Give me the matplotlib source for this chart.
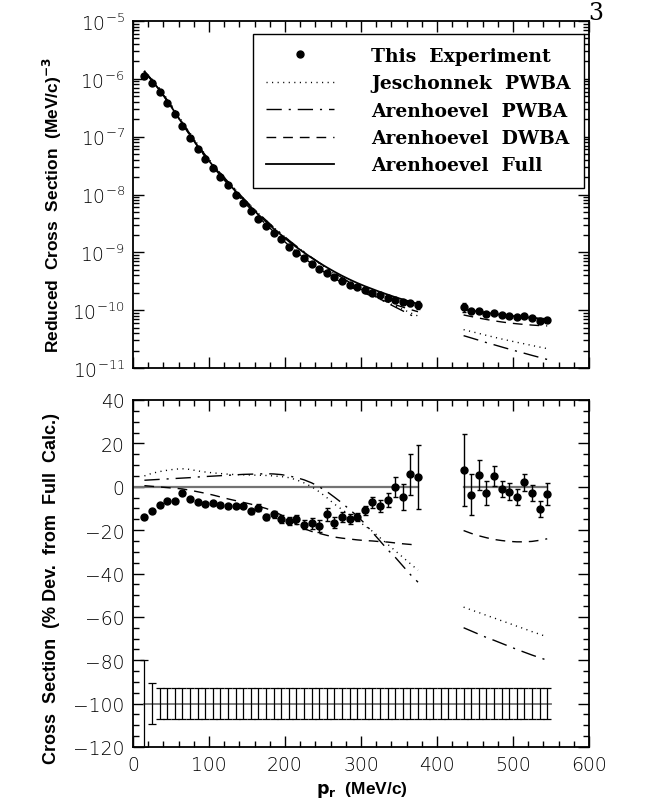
import matplotlib
matplotlib.use("Agg")
import matplotlib.pyplot as plt
from matplotlib.lines import Line2D
from matplotlib.ticker import MultipleLocator, LogLocator, NullFormatter
import numpy as np

# missing momentum bins (MeV/c), two kinematic settings
p_low = [15, 25, 35, 45, 55, 65, 75, 85, 95, 105, 115, 125, 135, 145, 155, 165, 175, 185,
         195, 205, 215, 225, 235, 245, 255, 265, 275, 285, 295, 305, 315, 325, 335, 345,
         355, 365, 375]
p_high = [435, 445, 455, 465, 475, 485, 495, 505, 515, 525, 535, 545]

# reduced cross section, this experiment (log10 of (MeV/c)^-3)
log_sigma_low = [-5.947, -6.080, -6.230, -6.415, -6.611, -6.807, -7.015, -7.211, -7.384,
                 -7.540, -7.696, -7.841, -8.002, -8.141, -8.285, -8.418, -8.551, -8.672,
                 -8.776, -8.909, -9.007, -9.105, -9.203, -9.284, -9.353, -9.434, -9.503,
                 -9.561, -9.607, -9.654, -9.700, -9.746, -9.786, -9.821, -9.861, -9.879,
                 -9.908]
log_sigma_high = [-9.948, -10.023, -10.006, -10.064, -10.052, -10.081, -10.098, -10.110,
                  -10.104, -10.139, -10.179, -10.168]

# Arenhoevel full calculation (log10)
log_full_low = [-5.88, -6.03, -6.195, -6.38, -6.575, -6.775, -6.97, -7.16, -7.335, -7.50,
                -7.655, -7.80, -7.945, -8.085, -8.22, -8.35, -8.47, -8.59, -8.70, -8.81,
                -8.91, -9.005, -9.095, -9.18, -9.26, -9.335, -9.405, -9.47, -9.53, -9.585,
                -9.635, -9.685, -9.73, -9.775, -9.815, -9.855, -9.89]
log_full_high = [-9.985, -10.005, -10.025, -10.045, -10.063, -10.08, -10.095, -10.108,
                 -10.12, -10.132, -10.143, -10.153]

# % deviation of data from full calculation
dev_low = [-14.1, -11.4, -8.5, -6.5, -6.8, -3.1, -5.8, -7.2, -8.0, -7.7, -8.5, -9.1, -8.8,
           -8.9, -11.4, -9.6, -13.9, -12.6, -15.0, -15.8, -15.0, -17.5, -16.9, -18.1, -12.6,
           -16.5, -13.9, -14.7, -13.9, -10.9, -7.2, -8.8, -6.2, 0.0, -4.8, 5.7, 4.6]
err_low = [0.8, 0.8, 0.8, 0.8, 0.8, 0.8, 0.8, 0.8, 0.8, 0.8, 0.8, 0.8, 0.8, 0.8, 1.2, 1.5,
           1.5, 1.6, 1.8, 1.9, 2.0, 2.2, 2.4, 2.6, 3.0, 2.7, 2.3, 2.3, 2.0, 2.0, 2.6, 2.8,
           3.1, 4.5, 5.9, 9.4, 14.8]
dev_high = [7.8, -3.7, 5.4, -2.9, 4.8, -1.0, -2.2, -4.9, 2.0, -2.8, -10.3, -3.4]
err_high = [16.7, 9.5, 7.0, 5.4, 4.6, 3.8, 3.7, 3.7, 3.9, 3.8, 3.8, 4.9]

# theory curves, % deviation from full calculation
jesch_low = [5.0, 6.2, 7.0, 7.6, 8.1, 8.3, 8.0, 7.3, 6.8, 6.4, 6.1, 5.8, 5.6, 5.5, 5.4, 5.3,
             5.2, 5.0, 4.7, 4.2, 3.2, 1.8, 0.0, -2.3, -5.0, -8.0, -10.5, -13.0, -15.5, -18.0,
             -20.5, -23.5, -26.5, -29.5, -32.5, -35.5, -38.5]
jesch_high = [-55.5, -56.8, -58.0, -59.3, -60.5, -61.8, -63.0, -64.3, -65.5, -66.8, -68.0, -69.2]
apwba_low = [3.0, 3.2, 3.4, 3.6, 3.8, 4.0, 4.2, 4.5, 4.7, 4.9, 5.1, 5.3, 5.5, 5.7, 5.8, 5.9,
             6.0, 5.9, 5.6, 5.0, 4.2, 3.2, 1.8, 0.0, -2.2, -4.8, -7.5, -10.5, -13.5, -17.0,
             -21.0, -25.0, -29.0, -32.5, -36.5, -40.5, -44.0]
apwba_high = [-65.0, -66.5, -68.0, -69.5, -70.8, -72.2, -73.6, -75.0, -76.3, -77.6, -78.8, -80.0]
adwba_low = [0.5, 0.2, -0.1, -0.4, -0.7, -1.0, -1.6, -2.3, -3.0, -3.8, -4.7, -5.6, -6.4,
             -7.2, -8.0, -9.0, -10.0, -11.3, -13.0, -15.0, -17.3, -19.3, -20.6, -21.5, -22.4,
             -23.2, -23.7, -24.1, -24.5, -24.8, -25.0, -25.3, -25.5, -25.9, -26.3, -26.6, -27.0]
adwba_high = [-20.2, -21.5, -22.6, -23.5, -24.3, -24.8, -25.2, -25.4, -25.4, -25.2, -24.7, -24.0]

# systematic uncertainty band, centred at -100
sys_p = list(range(15, 550, 10))
sys_err = [20.0, 9.3] + [7.2] * (len(sys_p) - 2)

legend_names = ["This  Experiment", "Jeschonnek  PWBA", "Arenhoevel  PWBA",
                "Arenhoevel  DWBA", "Arenhoevel  Full"]

tick_font = "DejaVu Sans"
label_font = "Liberation Sans"

styles = {
    "jesch": dict(color="k", lw=1.0, dashes=(0.8, 3.2)),
    "apwba": dict(color="k", lw=1.0, dashes=(11, 5, 1.5, 5)),
    "adwba": dict(color="k", lw=1.0, dashes=(7, 5)),
    "full": dict(color="k", lw=1.3),
}

W, H = 657, 803
fig = plt.figure(figsize=(W / 100, H / 100), dpi=100)
ax1 = fig.add_axes([133 / W, 1 - 369 / H, 456 / W, 347 / H])
ax2 = fig.add_axes([133 / W, 1 - 748 / H, 456 / W, 347 / H])

# ---------------- top panel ----------------
groups = [(p_low, log_sigma_low, log_full_low, err_low, jesch_low, apwba_low, adwba_low),
          (p_high, log_sigma_high, log_full_high, err_high, jesch_high, apwba_high, adwba_high)]
for p, ls, lf, er, je, ap, ad in groups:
    p = np.array(p)
    sig = 10 ** np.array(ls)
    full = 10 ** np.array(lf)
    ax1.errorbar(p, sig, yerr=sig * np.array(er) / 100, fmt="o", color="k", ms=5,
                 elinewidth=1, capsize=1.6, capthick=1)
    ax1.plot(p, full * (1 + np.array(je) / 100), **styles["jesch"])
    ax1.plot(p, full * (1 + np.array(ap) / 100), **styles["apwba"])
    ax1.plot(p, full * (1 + np.array(ad) / 100), **styles["adwba"])
    ax1.plot(p, full, **styles["full"])

ax1.set_yscale("log")
ax1.set_xlim(0, 600)
ax1.set_ylim(1e-11, 1e-5)
ax1.xaxis.set_major_locator(MultipleLocator(100))
ax1.xaxis.set_minor_locator(MultipleLocator(20))
ax1.tick_params(axis="x", labelbottom=False)
ax1.yaxis.set_major_locator(LogLocator(base=10, numticks=10))
ax1.yaxis.set_minor_locator(LogLocator(base=10, subs=np.arange(2, 10), numticks=100))
ax1.yaxis.set_minor_formatter(NullFormatter())

handles = [Line2D([], [], ls="none", marker="o", color="k", ms=5),
           Line2D([], [], **styles["jesch"]),
           Line2D([], [], **styles["apwba"]),
           Line2D([], [], **styles["adwba"]),
           Line2D([], [], **styles["full"])]
leg = ax1.legend(handles, legend_names, loc="upper right", bbox_to_anchor=(0.989, 0.963),
                 frameon=True, fancybox=False, edgecolor="k", framealpha=1, numpoints=1,
                 handlelength=3.6, handletextpad=2.0, labelspacing=0.5, borderpad=0.7,
                 borderaxespad=0, prop=dict(family="DejaVu Serif", weight="bold", size=13.5))
leg.get_frame().set_linewidth(1.0)

# ---------------- bottom panel ----------------
ax2.plot([0, p_low[-1]], [0, 0], color="0.45", lw=1.6)
ax2.plot([p_high[0], p_high[-1]], [0, 0], color="0.45", lw=1.6)
for p, je, ap, ad in [(p_low, jesch_low, apwba_low, adwba_low),
                      (p_high, jesch_high, apwba_high, adwba_high)]:
    ax2.plot(p, je, **styles["jesch"])
    ax2.plot(p, ap, **styles["apwba"])
    ax2.plot(p, ad, **styles["adwba"])
ax2.errorbar(p_low, dev_low, yerr=err_low, fmt="o", color="k", ms=5, elinewidth=1,
             capsize=1.8, capthick=1)
ax2.errorbar(p_high, dev_high, yerr=err_high, fmt="o", color="k", ms=5, elinewidth=1,
             capsize=1.8, capthick=1)

ax2.plot([sys_p[0], sys_p[-1] + 5], [-100, -100], color="0.45", lw=1.3)
ax2.errorbar(sys_p, [-100] * len(sys_p), yerr=sys_err, fmt="none", ecolor="k", elinewidth=0.9,
             capsize=2.8, capthick=0.9)

ax2.set_xlim(0, 600)
ax2.set_ylim(-120, 40)
ax2.xaxis.set_major_locator(MultipleLocator(100))
ax2.xaxis.set_minor_locator(MultipleLocator(20))
ax2.yaxis.set_major_locator(MultipleLocator(20))
ax2.yaxis.set_minor_locator(MultipleLocator(5))

for ax in (ax1, ax2):
    for s in ax.spines.values():
        s.set_linewidth(1.3)
    ax.tick_params(which="both", direction="in", top=True, right=True, width=1.0, colors="k")
    ax.tick_params(which="major", length=8)
    ax.tick_params(which="minor", length=4.5)
    ax.tick_params(axis="both", which="major", labelsize=13.5, pad=6)
    for t in ax.get_xticklabels() + ax.get_yticklabels():
        t.set_family(tick_font)
        t.set_fontweight("light")

fig.text(52 / W, 1 - 205 / H, r"Reduced  Cross  Section  (MeV/c)$^{\mathbf{-3}}$",
         rotation=90, ha="center", va="center", family=label_font, weight="bold", size=12.5)
fig.text(52 / W, 1 - 588 / H, "Cross  Section  (% Dev.  from  Full  Calc.)",
         rotation=90, ha="center", va="center", family=label_font, weight="bold", size=13)
fig.text(362 / W, 1 - 790 / H, r"$\mathbf{p_r}$  (MeV/c)", ha="center", va="center",
         family=label_font, weight="bold", size=12.5)
fig.text(596 / W, 1 - 14 / H, "3", ha="center", va="center", family="DejaVu Serif", size=17)

fig.savefig("out.png", dpi=100)
